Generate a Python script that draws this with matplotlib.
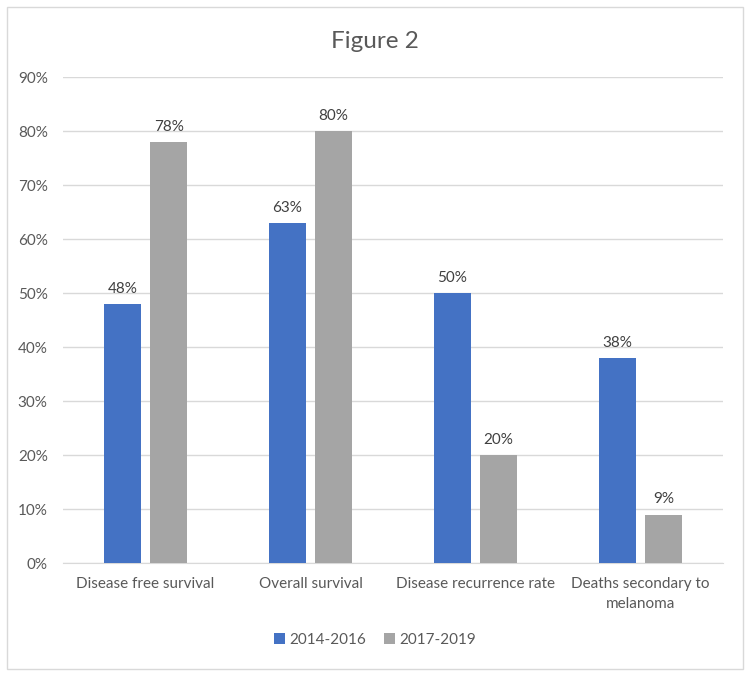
import matplotlib.pyplot as plt
import numpy as np
from matplotlib.patches import Rectangle

categories = ['Disease free survival', 'Overall survival', 'Disease recurrence rate',
              'Deaths secondary to\nmelanoma']
series_names = ['2014-2016', '2017-2019']
vals_2014 = [48, 63, 50, 38]
vals_2017 = [78, 80, 20, 9]
colors = ['#4472C4', '#A5A5A5']

plt.rcParams['font.family'] = ['Lato', 'DejaVu Sans']

fig = plt.figure(figsize=(7.5, 6.76), dpi=100)
ax = fig.add_axes([0.084, 0.167, 0.88, 0.719])

x = np.arange(len(categories))
w = 0.225
off = 0.14
for vals, name, c, d in [(vals_2014, series_names[0], colors[0], -off),
                         (vals_2017, series_names[1], colors[1], off)]:
    bars = ax.bar(x + d, vals, w, color=c, label=name, zorder=3)
    for b, v in zip(bars, vals):
        ax.text(b.get_x() + b.get_width() / 2, v + 1.5, f'{v}%', ha='center', va='bottom',
                fontsize=11, color='#404040')

ax.set_xlim(-0.5, 3.5)
ax.set_ylim(0, 90)
ax.set_yticks(range(0, 91, 10))
ax.set_yticklabels([f'{t}%' for t in range(0, 91, 10)])
ax.set_xticks(x)
ax.set_xticklabels(categories, linespacing=1.55)
ax.grid(axis='y', color='#D9D9D9', linewidth=1, zorder=0)
for s in ['top', 'right', 'left']:
    ax.spines[s].set_visible(False)
ax.spines['bottom'].set_color('#D9D9D9')
ax.tick_params(axis='both', length=0, labelsize=11, colors='#595959')
ax.tick_params(axis='y', pad=11)
ax.tick_params(axis='x', pad=10)

fig.text(0.5, 0.938, 'Figure 2', ha='center', va='center', fontsize=17.5, color='#595959')

fig.legend(loc='center', bbox_to_anchor=(0.5, 0.053), ncol=2, frameon=False,
           fontsize=11, handlelength=0.7, handleheight=0.7, columnspacing=1.2,
           handletextpad=0.3, labelcolor='#595959')

fig.add_artist(Rectangle((0.009, 0.011), 0.982, 0.978, transform=fig.transFigure,
                         fill=False, edgecolor='#D9D9D9', linewidth=1))

fig.savefig('out.png', dpi=100)
